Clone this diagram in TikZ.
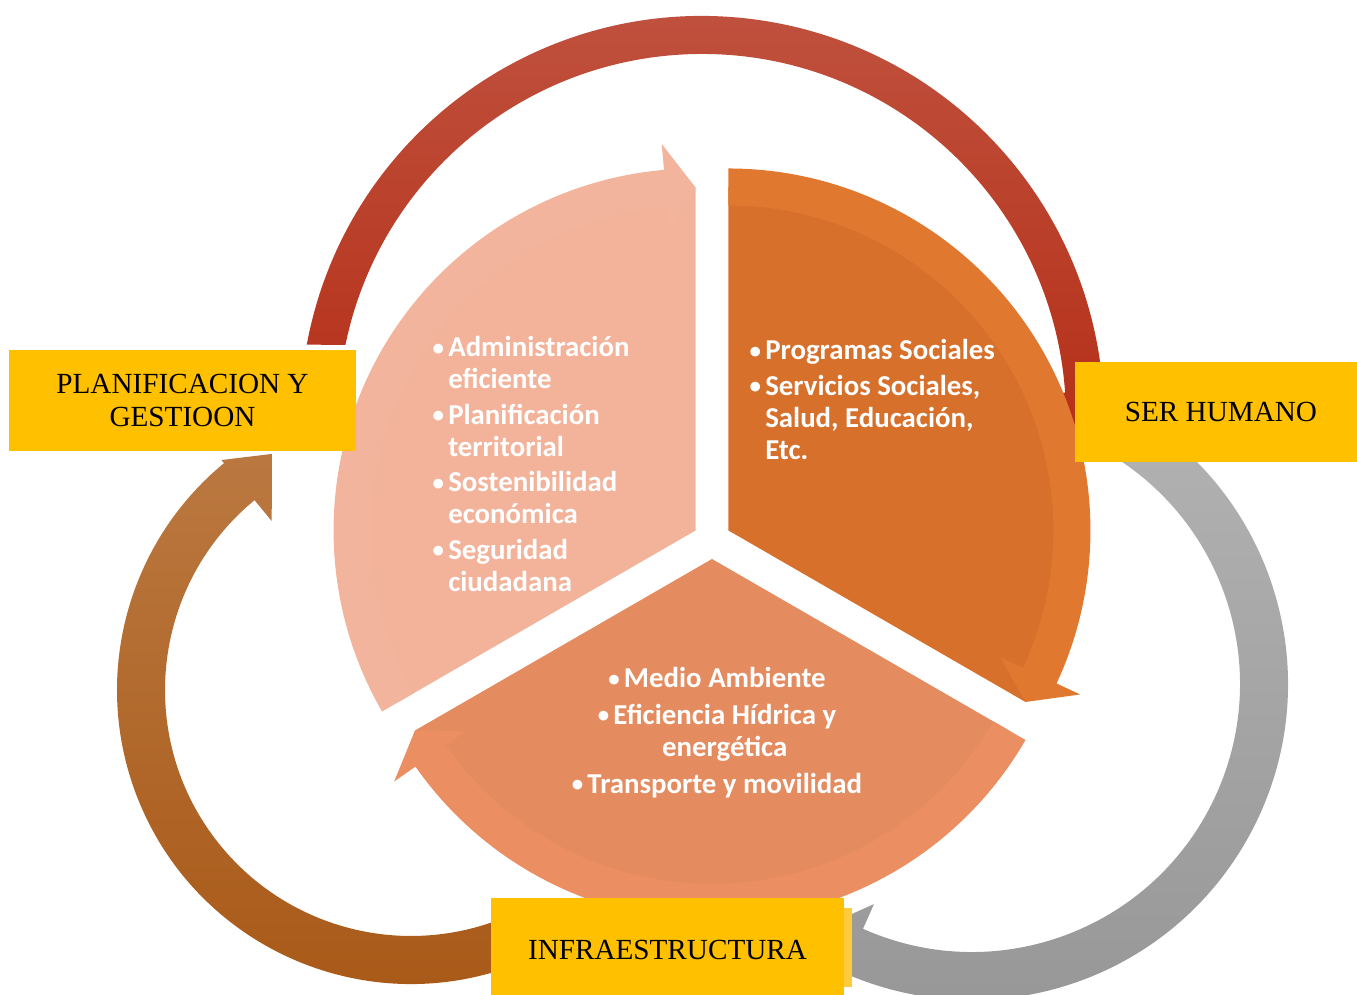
\documentclass[tikz,border=0pt]{standalone}
\usepackage{fontspec}
\setmainfont{Liberation Serif}
\newfontfamily\calib{Carlito}
\usetikzlibrary{calc}

\newcommand{\itm}{\makebox[0.54em][l]{\raisebox{0.5pt}{\fontsize{6.5}{6.5}\selectfont\textbullet}}}
\newcommand{\cnt}{\hspace*{0.54em}}

\newcommand{\pieseg}[5]{%
  \fill[#4] (#1) -- ++(#2:343) arc[start angle=#2, end angle=#3, radius=343] -- cycle;
  \fill[#5] ($(#1)+(#2:325)$) -- ($(#1)+(#2:362)$)
    arc[start angle=#2, end angle={#3+5}, radius=362]
    -- ($(#1)+({#3+5}:388)$) -- ($(#1)+(#3:343)$) -- ($(#1)+({#3+5}:300)$)
    -- ($(#1)+({#3+5}:325)$) arc[start angle={#3+5}, end angle=#2, radius=325] -- cycle;}

\newcommand{\loopband}[8]{%
  \path[#8] ($(#1)+(#4:#2)$) arc[start angle=#4, end angle=#6, radius=#2]
    -- ($(#1)+({#6}:{#2+4})$) -- ($(#1)+({#7}:{#2-20})$) -- ($(#1)+({#6}:{#3-27})$)
    -- ($(#1)+(#6:#3)$) arc[start angle=#6, end angle=#5, radius=#3] -- cycle;}

\tikzset{
  labelbox/.style={fill=boxyellow, inner sep=0pt, align=center,
    font=\fontsize{8.3}{9.4}\selectfont},
  itemtext/.style={text=white, inner sep=0pt,
    font=\calib\bfseries\fontsize{8.2}{9.1}\selectfont}
}

\begin{document}
\begin{tikzpicture}[x=0.01cm,y=0.01cm]
	\definecolor{boxyellow}{RGB}{255,192,0}
	\definecolor{boxshade}{RGB}{255,203,60}
	\definecolor{pinkbody}{RGB}{243,179,155}
	\definecolor{pinkband}{RGB}{243,180,157}
	\definecolor{orangebody}{RGB}{214,112,43}
	\definecolor{orangeband}{RGB}{224,120,48}
	\definecolor{salmonbody}{RGB}{228,140,96}
	\definecolor{salmonband}{RGB}{235,143,99}
	\definecolor{redtop}{RGB}{192,83,64}
	\definecolor{redbot}{RGB}{181,47,23}
	\definecolor{graytop}{RGB}{178,178,178}
	\definecolor{graybot}{RGB}{150,150,150}
	\definecolor{browntop}{RGB}{186,120,64}
	\definecolor{brownbot}{RGB}{168,88,22}
	\useasboundingbox (0,0) rectangle (1357,995);
	\coordinate (redc) at (702,577);
	\coordinate (grayc) at (972,311);
	\coordinate (brownc) at (411,305);
	\loopband{redc}{402}{364}{169.5}{168.4}{4}{-3}{top color=redtop,bottom color=redbot}
	\loopband{grayc}{316}{268}{60}{60}{-114}{-123}{top color=graytop,bottom color=graybot}
	\loopband{brownc}{294}{246}{-70}{-70}{-230.5}{-239.5}{top color=browntop,bottom color=brownbot}
	\coordinate (pie) at (712,455);
	\coordinate (plansec) at ($(pie)+(150:19)$);
	\coordinate (humsec) at ($(pie)+(30:19)$);
	\coordinate (infsec) at ($(pie)+(270:19)$);
	\pieseg{plansec}{210}{90}{pinkbody}{pinkband}
	\pieseg{humsec}{90}{-30}{orangebody}{orangeband}
	\pieseg{infsec}{330}{210}{salmonbody}{salmonband}
	\node[itemtext, anchor=north west, align=left] (plantext) at (432,659)
		{\itm Administración\\\cnt eficiente\\[1pt]\itm Planificación\\\cnt territorial\\[1pt]\itm Sostenibilidad\\\cnt económica\\[1pt]\itm Seguridad\\\cnt ciudadana};
	\node[itemtext, anchor=north west, align=left] (humtext) at (749,656)
		{\itm Programas Sociales\\[1pt]\itm Servicios Sociales,\\\cnt Salud, Educación,\\\cnt Etc.};
	\node[itemtext, anchor=north, align=center] (inftext) at (717,328)
		{\itm Medio Ambiente\\[1.3pt]\itm Eficiencia Hídrica y\\\cnt energética\\[1.3pt]\itm Transporte y movilidad};
	\fill[boxshade] (844,8) rectangle (852,87);
	\node[labelbox, minimum width=3.47cm, minimum height=1.01cm] (plan) at (182.5,594.5) {PLANIFICACION Y\\GESTIOON};
	\node[labelbox, minimum width=2.92cm, minimum height=1cm] (human) at (1221,583) {SER HUMANO};
	\node[labelbox, minimum width=3.53cm, minimum height=1.04cm] (infra) at (667.5,45) {INFRAESTRUCTURA};
\end{tikzpicture}
\end{document}
